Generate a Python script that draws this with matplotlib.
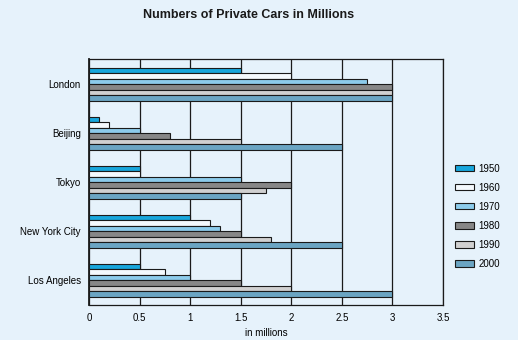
import matplotlib
matplotlib.use("Agg")
import matplotlib.pyplot as plt
import numpy as np

cities = ["London", "Beijing", "Tokyo", "New York City", "Los Angeles"]
years = ["1950", "1960", "1970", "1980", "1990", "2000"]
v1950 = [1.5, 0.1, 0.5, 1.0, 0.5]
v1960 = [2.0, 0.2, 0.5, 1.2, 0.75]
v1970 = [2.75, 0.5, 1.5, 1.3, 1.0]
v1980 = [3.0, 0.8, 2.0, 1.5, 1.5]
v1990 = [3.0, 1.5, 1.75, 1.8, 2.0]
v2000 = [3.0, 2.5, 1.5, 2.5, 3.0]
series = [v1950, v1960, v1970, v1980, v1990, v2000]
colors = ["#17a6dc", "#f4f9fd", "#8ccbeb", "#878787", "#d0d0d0", "#6ba5c3"]
xticks = [0, 0.5, 1, 1.5, 2, 2.5, 3, 3.5]
xticklabels = ["0", "0.5", "1", "1.5", "2", "2.5", "3", "3.5"]

bg = "#e6f2fb"
plt.rcParams["font.family"] = ["Liberation Sans", "DejaVu Sans"]

fig = plt.figure(figsize=(5.18, 3.40), dpi=100, facecolor=bg)
ax = fig.add_axes([89/518, 1-305/340, (443-89)/518, (305-59)/340])
ax.set_facecolor(bg)

y = np.arange(len(cities))
h = 0.1125
handles = []
for i, (vals, c, yr) in enumerate(zip(series, colors, years)):
    off = (i - 2.5) * h
    b = ax.barh(y + off, vals, height=h, color=c, edgecolor="#1a1a1a",
                linewidth=0.8, label=yr, zorder=3)
    handles.append(b)

ax.set_xlim(0, 3.5)
ax.set_ylim(4.51, -0.52)
ax.set_xticks(xticks)
ax.set_xticklabels(xticklabels, fontsize=7)
ax.set_yticks(y)
ax.set_yticklabels(cities, fontsize=7)
ax.tick_params(length=0, pad=6)
ax.xaxis.grid(True, color="#1a1a1a", linewidth=0.9, zorder=1)
for s in ax.spines.values():
    s.set_color("#1a1a1a")
    s.set_linewidth(0.9)
ax.spines["left"].set_linewidth(1.3)
ax.set_xlabel("in millions", fontsize=7, labelpad=3)

fig.text(249/518, 1-15/340, "Numbers of Private Cars in Millions",
         ha="center", va="center", fontsize=9, fontweight="bold", color="#1a1a1a")

fig.legend(handles=handles, labels=years, loc="upper left",
           bbox_to_anchor=(446/518, 1-155/340), frameon=False, fontsize=7,
           handlelength=2.0, handleheight=0.6, labelspacing=0.93, handletextpad=0.4)

fig.savefig("out.png", dpi=100, facecolor=bg)
